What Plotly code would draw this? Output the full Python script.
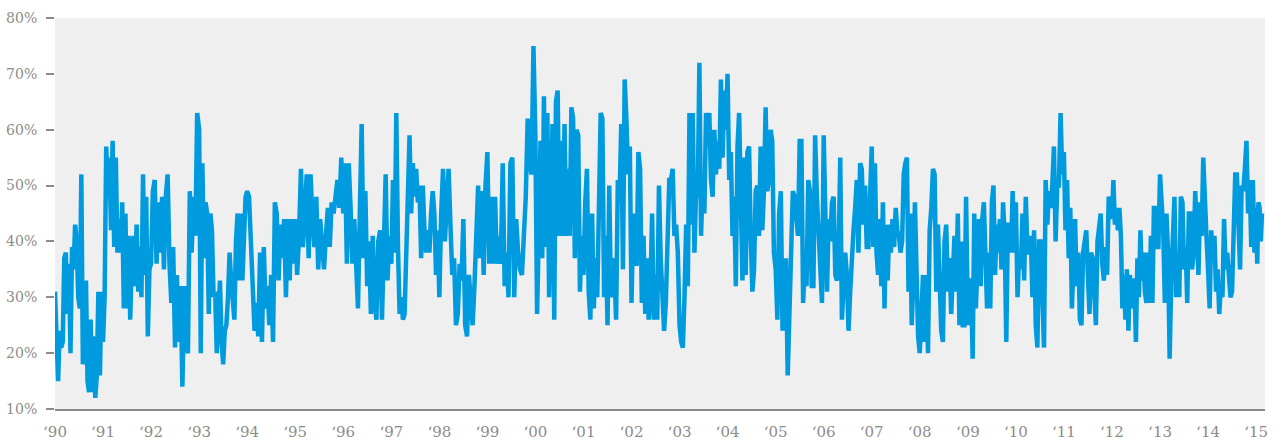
import datetime as dt
import plotly.graph_objects as go

# Values (%), grouped by year
y1990 = [31, 22, 15, 24, 21, 22, 37, 38, 27, 36, 20, 39, 35, 43, 40, 30, 28, 52, 18, 22, 33, 15, 13, 26, 13, 23, 12, 16, 31, 16, 31]
y1991 = [22, 30, 57, 48, 55, 42, 58, 39, 55, 38, 44, 38, 47, 28, 45, 28, 41, 26, 37, 41, 32, 43, 31, 39, 30, 52, 34, 48, 23, 35]
y1992 = [36, 49, 51, 36, 47, 38, 48, 35, 48, 52, 36, 29, 39, 21, 34, 22, 32, 14, 32, 21, 20, 49, 38, 48, 41, 63]
y1993 = [60, 20, 54, 37, 47, 45, 27, 45, 42, 30, 31, 20, 27, 33, 22, 18, 24, 25, 30, 38, 33, 28, 26, 40, 45, 33, 45, 33, 41, 48]
y1994 = [49, 48, 40, 29, 24, 29, 23, 38, 22, 39, 28, 32, 25, 34, 22, 47, 45, 33, 43, 37, 44, 30, 44, 33, 44, 36]
y1995 = [44, 34, 41, 53, 39, 45, 52, 37, 52, 44, 39, 48, 35, 44, 40, 35, 41, 46, 39, 47, 45, 49, 51, 46, 55]
y1996 = [45, 54, 36, 54, 46, 36, 44, 35, 28, 45, 61, 37, 49, 32, 40, 27, 41, 29, 26, 40, 42, 26, 41, 52, 33, 41]
y1997 = [36, 51, 38, 63, 39, 27, 30, 26, 27, 40, 52, 59, 45, 54, 48, 53, 47, 50, 37, 50, 42, 38, 42, 38, 45, 49, 45, 34, 42]
y1998 = [30, 45, 53, 40, 46, 53, 43, 34, 37, 25, 27, 36, 33, 44, 25, 23, 34, 30, 25, 32, 42, 50, 37, 49, 34, 50]
y1999 = [56, 36, 48, 36, 48, 36, 41, 36, 54, 32, 38, 30, 54, 55, 30, 44, 38, 35, 34, 42, 48, 62, 54, 52, 75]
y2000 = [59, 27, 42, 58, 37, 66, 39, 63, 30, 45, 61, 26, 65, 67, 41, 58, 41, 61, 41, 53, 41, 64, 62, 37, 60, 59, 31, 41]
y2001 = [34, 47, 53, 31, 26, 45, 28, 37, 30, 46, 63, 62, 30, 41, 25, 50, 30, 37, 35, 26, 51, 47, 61, 35, 69, 62, 52, 57]
y2002 = [29, 45, 36, 36, 56, 53, 29, 41, 27, 37, 26, 31, 45, 26, 34, 26, 50, 37, 31, 24, 29, 40, 51, 51, 53, 41, 43, 38]
y2003 = [25, 22, 21, 30, 43, 32, 63, 43, 63, 38, 49, 48, 72, 41, 51, 45, 63, 57, 63, 51, 48, 60, 52, 58, 53, 69, 55, 67, 60]
y2004 = [70, 51, 56, 41, 48, 32, 57, 63, 48, 33, 55, 34, 56, 57, 41, 31, 35, 49, 50, 41, 57, 42, 49, 64, 49, 51, 60, 58, 38]
y2005 = [35, 26, 45, 49, 24, 34, 37, 16, 30, 40, 49, 48, 43, 41, 58, 58, 29, 36, 32, 51, 49, 32, 32, 59, 48, 41, 38, 29]
y2006 = [59, 40, 31, 44, 40, 47, 48, 34, 33, 38, 55, 26, 32, 38, 34, 24, 31, 39, 42, 46, 51, 38, 54, 53, 43, 50, 39, 39, 49]
y2007 = [57, 39, 54, 38, 34, 44, 32, 47, 28, 43, 33, 43, 38, 44, 39, 46, 42, 41, 38, 40, 52, 54, 55, 31, 45, 25, 33, 47, 30, 23]
y2008 = [20, 30, 34, 22, 34, 20, 42, 46, 53, 52, 31, 43, 31, 24, 22, 40, 43, 31, 37, 27, 34, 41, 31, 45, 25, 40, 25, 25, 48]
y2009 = [25, 33, 33, 19, 45, 28, 36, 44, 32, 44, 47, 39, 28, 38, 28, 47, 50, 34, 43, 38, 44, 35, 47, 41, 22, 43, 43, 38, 49, 38]
y2010 = [47, 30, 38, 35, 45, 33, 48, 38, 38, 41, 30, 42, 25, 21, 40, 40, 31, 21, 51, 43, 49, 46, 50, 57, 40, 50, 50, 63, 52]
y2011 = [56, 42, 51, 37, 46, 28, 38, 44, 32, 38, 26, 25, 38, 40, 42, 34, 27, 38, 37, 31, 25, 40, 43, 45, 36, 33, 39, 34, 48, 47]
y2012 = [44, 51, 43, 46, 42, 46, 41, 28, 34, 26, 35, 24, 34, 28, 33, 33, 22, 37, 30, 42, 33, 38, 31, 29, 38, 29, 41, 29, 46, 46, 39, 39]
y2013 = [52, 47, 42, 29, 45, 38, 19, 33, 41, 48, 30, 38, 30, 48, 47, 35, 39, 29, 45, 45, 35, 38, 49, 43, 34, 47, 41, 55, 46, 41]
y2014 = [35, 28, 42, 37, 41, 31, 35, 27, 32, 30, 44, 35, 38, 34, 30, 31, 46, 52, 52, 42, 35, 50, 49, 53, 58, 45, 51, 39, 51, 38]
y2015 = [46, 36, 47, 46, 40, 45]

years = list(range(1990, 2016))
yearly = [y1990, y1991, y1992, y1993, y1994, y1995, y1996, y1997, y1998, y1999,
          y2000, y2001, y2002, y2003, y2004, y2005, y2006, y2007, y2008, y2009,
          y2010, y2011, y2012, y2013, y2014, y2015]

tick_years = list(range(1990, 2016))
tick_labels = ["\u2018" + str(y)[2:] for y in tick_years]
y_ticks = [10, 20, 30, 40, 50, 60, 70, 80]

dates, values = [], []
for yr, vals in zip(years, yearly):
    start = dt.datetime(yr, 1, 1)
    step = 365.0 / len(vals) if yr < 2015 else 9.0
    for i, v in enumerate(vals):
        dates.append(start + dt.timedelta(days=i * step))
        values.append(v)

fig = go.Figure()
fig.add_trace(go.Scatter(
    x=dates, y=values, mode="lines",
    line=dict(color="#009ADE", width=4.5),
    hoverinfo="skip",
))

font_family = "DejaVu Serif"
grey = "#8c8c8c"

fig.update_layout(
    width=1275, height=443,
    margin=dict(l=55, r=10, t=18, b=34),
    paper_bgcolor="white",
    plot_bgcolor="#efefef",
    showlegend=False,
    font=dict(family=font_family, size=13, color=grey),
)
fig.update_xaxes(
    range=[dt.datetime(1990, 1, 1), dt.datetime(2015, 3, 10)],
    tickvals=[dt.datetime(y, 1, 1) for y in tick_years],
    ticktext=tick_labels,
    showgrid=False, zeroline=False, automargin=False,
    showline=True, linecolor="#8a8a8a", linewidth=1.5,
    ticks="", ticklabelstandoff=8,
    tickfont=dict(family=font_family, size=15, color=grey),
)
fig.update_yaxes(
    range=[10, 80],
    tickvals=y_ticks,
    ticktext=[f"{v}%" for v in y_ticks],
    showgrid=False, zeroline=False, showline=False, automargin=False,
    ticks="outside", ticklen=8, tickwidth=1.5, tickcolor="#8a8a8a",
    ticklabelstandoff=6,
    tickfont=dict(family=font_family, size=14, color=grey),
)

# remove the page's default body margin so the figure fills the window exactly
fig.write_html("out.html", config={"displayModeBar": False},
               post_script="document.body.style.margin='0';")
